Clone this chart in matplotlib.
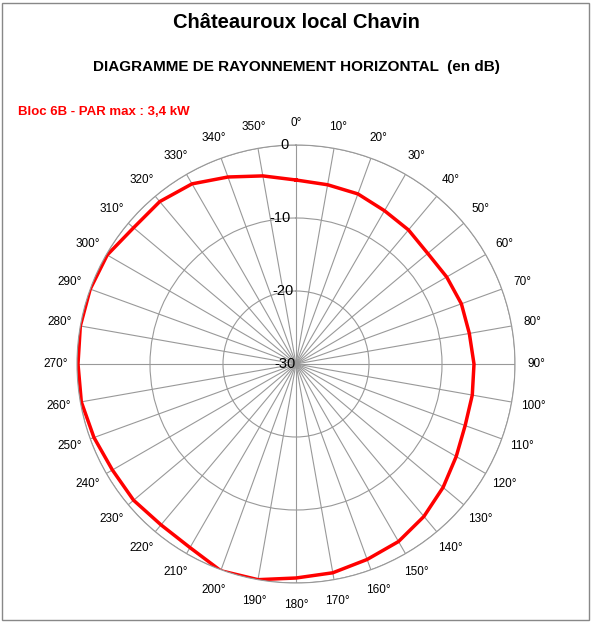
import numpy as np
import matplotlib
matplotlib.use("Agg")
import matplotlib.pyplot as plt
from matplotlib.patches import Rectangle

TITLE = "Châteauroux local Chavin"
SUBTITLE = "DIAGRAMME DE RAYONNEMENT HORIZONTAL  (en dB)"
LABEL = "Bloc 6B - PAR max : 3,4 kW"

angles_deg = list(range(0, 360, 10))
radius_px = [184, 182, 181, 177, 175, 172, 174, 176, 176, 178,
             179, 180, 185, 192, 199, 205, 208, 212, 214, 219,
             220, 212, 210, 212, 212, 215, 218, 218, 219, 219,
             218, 212, 212, 208, 199, 191]
levels_db = [r / 219 * 30 - 30 for r in radius_px]

W, H = 592, 622
fig = plt.figure(figsize=(W / 100, H / 100), dpi=100)
fig.patches.append(Rectangle((2 / W, 2 / H), 1 - 5 / W, 1 - 5 / H, transform=fig.transFigure,
                             fill=False, edgecolor="#888888", lw=1))
fig.text(0.5, 1 - 22 / H, TITLE, ha="center", va="center", fontsize=14.5, fontweight="bold",
         family="Liberation Sans")
fig.text(0.5, 1 - 67 / H, SUBTITLE, ha="center", va="center", fontsize=11, fontweight="bold",
         family="Liberation Sans")
fig.text(18 / W, 1 - 112 / H, LABEL, ha="left", va="center", fontsize=9.5, fontweight="bold",
         color="red", family="Liberation Sans")

cx, cy, R = 296, 364, 219
ax = fig.add_axes([(cx - R) / W, (H - cy - R) / H, 2 * R / W, 2 * R / H], projection="polar")
ax.set_theta_zero_location("N")
ax.set_theta_direction(-1)
ax.set_ylim(-30, 0)
ax.set_yticks([-30, -20, -10, 0])
ax.set_yticklabels([])
ax.set_xticks(np.deg2rad(angles_deg))
ax.set_xticklabels([f"{a}°" for a in angles_deg], fontsize=8.5, family="Liberation Sans")
ax.tick_params(axis="x", pad=5)
ax.grid(True, color="#999999", lw=0.8)
ax.spines["polar"].set_color("#999999")
ax.spines["polar"].set_linewidth(0.8)
for v in [-20, -10, 0]:
    ax.text(np.deg2rad(-2), v, str(v), ha="right", va="center", fontsize=10.5,
            family="Liberation Sans")
ax.text(0, -30, "-30", ha="right", va="center", fontsize=10.5, family="Liberation Sans")

th = np.deg2rad(angles_deg + [angles_deg[0]])
vals = levels_db + [levels_db[0]]
ax.plot(th, vals, color="red", lw=2.5)

fig.savefig("out.png", dpi=100)
